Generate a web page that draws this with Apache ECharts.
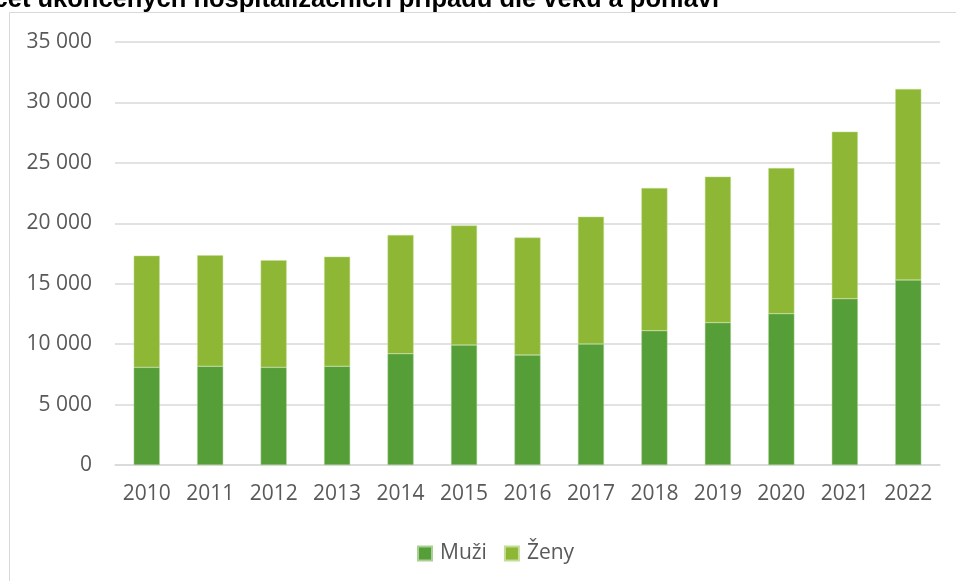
<!DOCTYPE html>
<html>
<head>
<meta charset="utf-8">
<script src="https://cdn.jsdelivr.net/npm/echarts@6/dist/echarts.min.js"></script>
<style>
  html, body { margin: 0; padding: 0; background: #fff; }
  #chart { width: 956px; height: 581px; }
</style>
</head>
<body>
<div id="chart"></div>
<script>
// data
const years = ['2010', '2011', '2012', '2013', '2014', '2015', '2016', '2017', '2018', '2019', '2020', '2021', '2022']
const muzi = [8080, 8170, 8080, 8170, 9210, 9930, 9100, 10010, 11110, 11780, 12520, 13760, 15310]
const zeny = [9240, 9180, 8860, 9070, 9820, 9885, 9720, 10535, 11810, 12080, 12050, 13820, 15800]

const labelColor = '#595959'
const font = 'Open Sans, Carlito, sans-serif'

let myChart = echarts.init(document.getElementById('chart'))
let option = {
  animation: false,
  title: {
    text: 'Počet ukončených hospitalizačních případů dle věku a pohlaví',
    left: -44,
    top: -18,
    textStyle: {
      fontFamily: 'Liberation Sans, Arial, sans-serif',
      fontWeight: 'bold',
      fontSize: 25.5,
      color: '#000'
    }
  },
  graphic: [{
    type: 'rect',
    shape: { x: 9.5, y: 12.5, width: 1000, height: 600 },
    style: { fill: 'none', stroke: '#d9d9d9', lineWidth: 1 },
    silent: true
  }],
  grid: {
    left: 115,
    right: 16,
    top: 42,
    bottom: 116
  },
  legend: {
    top: 538,
    left: 412,
    itemWidth: 14,
    itemHeight: 14,
    itemGap: 17,
    icon: 'rect',
    textStyle: { color: labelColor, fontSize: 21, fontFamily: font, padding: [0, 0, 0, 3] },
    data: ['Muži', 'Ženy']
  },
  xAxis: {
    type: 'category',
    data: years,
    axisTick: { show: false },
    axisLine: { lineStyle: { color: '#d9d9d9', width: 1.5 } },
    axisLabel: { color: labelColor, fontSize: 21, fontFamily: font, margin: 19 }
  },
  yAxis: {
    type: 'value',
    min: 0,
    max: 35000,
    interval: 5000,
    axisLine: { show: false },
    axisTick: { show: false },
    splitLine: { lineStyle: { color: '#d9d9d9', width: 1.5 } },
    axisLabel: {
      color: labelColor,
      fontSize: 21,
      fontFamily: font,
      margin: 23,
      formatter: function (v) {
        return String(v).replace(/\B(?=(\d{3})+(?!\d))/g, ' ')
      }
    }
  },
  series: [{
    name: 'Muži',
    type: 'bar',
    stack: 'total',
    barWidth: '41%',
    itemStyle: { color: '#559e38', borderColor: '#a9cf94', borderWidth: 0.5 },
    data: muzi
  }, {
    name: 'Ženy',
    type: 'bar',
    stack: 'total',
    barWidth: '41%',
    itemStyle: { color: '#8db735', borderColor: '#c4dd95', borderWidth: 0.5 },
    data: zeny
  }]
}
myChart.setOption(option)
window.addEventListener('resize', function () {
  myChart.resize()
})
</script>
</body>
</html>
